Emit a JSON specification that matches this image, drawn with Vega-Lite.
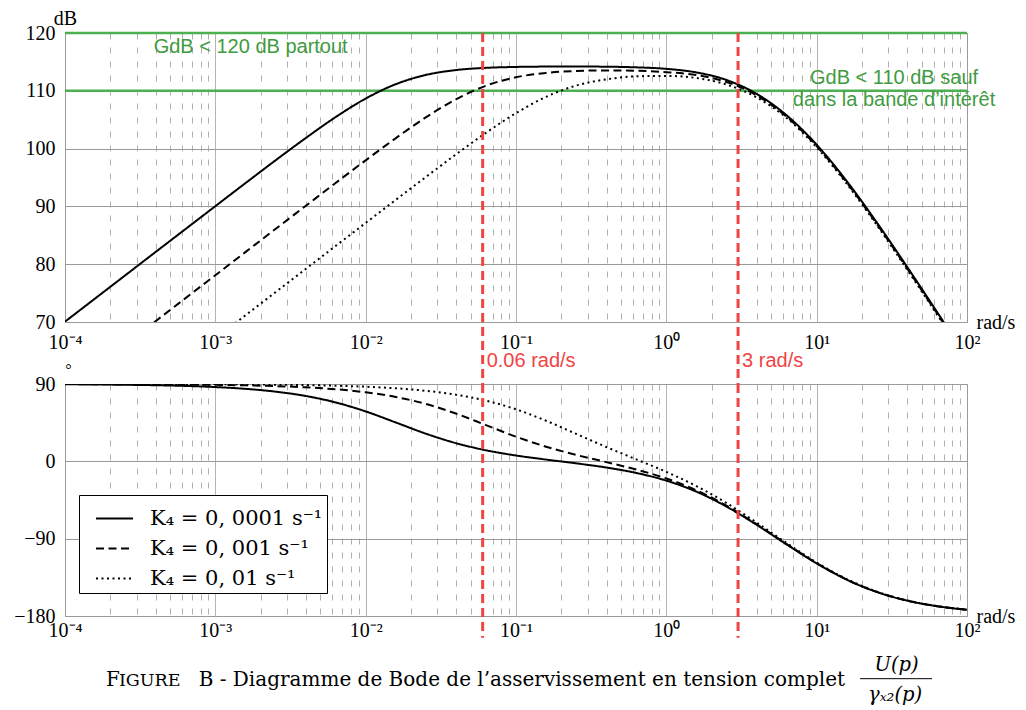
{
  "$schema": "https://vega.github.io/schema/vega-lite/v6.json",
  "background": "white",
  "padding": {"left": 13, "top": 7, "right": 0, "bottom": 0},
  "bounds": "flush",
  "spacing": 62,
  "resolve": {"scale": {"strokeDash": "independent"}, "legend": {"strokeDash": "independent"}},
  "config": {
    "view": {"stroke": "#9a9a9a", "strokeWidth": 1},
    "axis": {
      "labelFont": "Liberation Serif", "labelFontSize": 20, "labelColor": "black",
      "titleFont": "Liberation Serif", "titleFontSize": 20, "titleFontWeight": "normal", "titleColor": "black",
      "ticks": false, "domainColor": "#9a9a9a", "gridColor": "#9a9a9a", "gridWidth": 1, "labelOverlap": false
    }
  },
  "datasets": {
    "curves": [
      {"w":0.0001,"k":"0,0001","gain":70.06,"phase":89.65},
      {"w":0.00015849,"k":"0,0001","gain":74.06,"phase":89.44},
      {"w":0.00025119,"k":"0,0001","gain":78.06,"phase":89.11},
      {"w":0.00039811,"k":"0,0001","gain":82.06,"phase":88.58},
      {"w":0.00063096,"k":"0,0001","gain":86.05,"phase":87.76},
      {"w":0.001,"k":"0,0001","gain":90.04,"phase":86.45},
      {"w":0.0015849,"k":"0,0001","gain":94.02,"phase":84.37},
      {"w":0.0025119,"k":"0,0001","gain":97.96,"phase":81.13},
      {"w":0.0039811,"k":"0,0001","gain":101.8,"phase":76.09},
      {"w":0.0063096,"k":"0,0001","gain":105.45,"phase":68.57},
      {"w":0.01,"k":"0,0001","gain":108.66,"phase":58.08},
      {"w":0.015849,"k":"0,0001","gain":111.14,"phase":45.25},
      {"w":0.025119,"k":"0,0001","gain":112.74,"phase":32.22},
      {"w":0.039811,"k":"0,0001","gain":113.59,"phase":21.19},
      {"w":0.063096,"k":"0,0001","gain":113.97,"phase":12.89},
      {"w":0.1,"k":"0,0001","gain":114.13,"phase":6.8},
      {"w":0.15849,"k":"0,0001","gain":114.19,"phase":2.04},
      {"w":0.25119,"k":"0,0001","gain":114.2,"phase":-2.32},
      {"w":0.39811,"k":"0,0001","gain":114.17,"phase":-7.17},
      {"w":0.63096,"k":"0,0001","gain":114.06,"phase":-13.5},
      {"w":1,"k":"0,0001","gain":113.8,"phase":-22.46},
      {"w":1.5849,"k":"0,0001","gain":113.18,"phase":-35.27},
      {"w":2.5119,"k":"0,0001","gain":111.87,"phase":-52.63},
      {"w":3.9811,"k":"0,0001","gain":109.48,"phase":-73.81},
      {"w":6.3096,"k":"0,0001","gain":105.76,"phase":-96.68},
      {"w":10,"k":"0,0001","gain":100.67,"phase":-118.78},
      {"w":15.849,"k":"0,0001","gain":94.37,"phase":-137.72},
      {"w":25.119,"k":"0,0001","gain":87.22,"phase":-152.08},
      {"w":39.811,"k":"0,0001","gain":79.6,"phase":-162.03},
      {"w":63.096,"k":"0,0001","gain":71.76,"phase":-168.57},
      {"w":100,"k":"0,0001","gain":63.82,"phase":-172.76},
      {"w":0.0001,"k":"0,001","gain":58.09,"phase":89.91},
      {"w":0.00015849,"k":"0,001","gain":62.09,"phase":89.85},
      {"w":0.00025119,"k":"0,001","gain":66.09,"phase":89.76},
      {"w":0.00039811,"k":"0,001","gain":70.09,"phase":89.62},
      {"w":0.00063096,"k":"0,001","gain":74.09,"phase":89.4},
      {"w":0.001,"k":"0,001","gain":78.09,"phase":89.03},
      {"w":0.0015849,"k":"0,001","gain":82.09,"phase":88.45},
      {"w":0.0025119,"k":"0,001","gain":86.09,"phase":87.56},
      {"w":0.0039811,"k":"0,001","gain":90.07,"phase":86.12},
      {"w":0.0063096,"k":"0,001","gain":94.05,"phase":83.88},
      {"w":0.01,"k":"0,001","gain":97.97,"phase":80.35},
      {"w":0.015849,"k":"0,001","gain":101.8,"phase":74.9},
      {"w":0.025119,"k":"0,001","gain":105.4,"phase":66.79},
      {"w":0.039811,"k":"0,001","gain":108.52,"phase":55.63},
      {"w":0.063096,"k":"0,001","gain":110.88,"phase":42.19},
      {"w":0.1,"k":"0,001","gain":112.34,"phase":28.69},
      {"w":0.15849,"k":"0,001","gain":113.1,"phase":17.04},
      {"w":0.25119,"k":"0,001","gain":113.43,"phase":7.49},
      {"w":0.39811,"k":"0,001","gain":113.53,"phase":-0.89},
      {"w":0.63096,"k":"0,001","gain":113.48,"phase":-9.51},
      {"w":1,"k":"0,001","gain":113.23,"phase":-19.94},
      {"w":1.5849,"k":"0,001","gain":112.72,"phase":-33.68},
      {"w":2.5119,"k":"0,001","gain":111.52,"phase":-51.62},
      {"w":3.9811,"k":"0,001","gain":109.23,"phase":-73.17},
      {"w":6.3096,"k":"0,001","gain":105.51,"phase":-96.28},
      {"w":10,"k":"0,001","gain":100.42,"phase":-118.52},
      {"w":15.849,"k":"0,001","gain":94.12,"phase":-137.56},
      {"w":25.119,"k":"0,001","gain":86.97,"phase":-151.98},
      {"w":39.811,"k":"0,001","gain":79.35,"phase":-161.96},
      {"w":63.096,"k":"0,001","gain":71.51,"phase":-168.53},
      {"w":100,"k":"0,001","gain":63.57,"phase":-172.74},
      {"w":0.0001,"k":"0,01","gain":47.15,"phase":89.97},
      {"w":0.00015849,"k":"0,01","gain":51.15,"phase":89.95},
      {"w":0.00025119,"k":"0,01","gain":55.15,"phase":89.93},
      {"w":0.00039811,"k":"0,01","gain":59.15,"phase":89.88},
      {"w":0.00063096,"k":"0,01","gain":63.15,"phase":89.82},
      {"w":0.001,"k":"0,01","gain":67.15,"phase":89.69},
      {"w":0.0015849,"k":"0,01","gain":71.15,"phase":89.5},
      {"w":0.0025119,"k":"0,01","gain":75.15,"phase":89.21},
      {"w":0.0039811,"k":"0,01","gain":79.15,"phase":88.74},
      {"w":0.0063096,"k":"0,01","gain":83.15,"phase":88.01},
      {"w":0.01,"k":"0,01","gain":87.14,"phase":86.84},
      {"w":0.015849,"k":"0,01","gain":91.13,"phase":85.0},
      {"w":0.025119,"k":"0,01","gain":95.08,"phase":82.1},
      {"w":0.039811,"k":"0,01","gain":98.98,"phase":77.57},
      {"w":0.063096,"k":"0,01","gain":102.73,"phase":70.65},
      {"w":0.1,"k":"0,01","gain":106.14,"phase":60.58},
      {"w":0.15849,"k":"0,01","gain":108.96,"phase":47.25},
      {"w":0.25119,"k":"0,01","gain":110.9,"phase":31.97},
      {"w":0.39811,"k":"0,01","gain":111.98,"phase":16.72},
      {"w":0.63096,"k":"0,01","gain":112.51,"phase":2.29},
      {"w":1,"k":"0,01","gain":112.58,"phase":-12.29},
      {"w":1.5849,"k":"0,01","gain":112.21,"phase":-28.81},
      {"w":2.5119,"k":"0,01","gain":111.09,"phase":-48.53},
      {"w":3.9811,"k":"0,01","gain":108.87,"phase":-71.22},
      {"w":6.3096,"k":"0,01","gain":105.31,"phase":-95.05},
      {"w":10,"k":"0,01","gain":100.22,"phase":-117.75},
      {"w":15.849,"k":"0,01","gain":93.92,"phase":-137.07},
      {"w":25.119,"k":"0,01","gain":86.77,"phase":-151.67},
      {"w":39.811,"k":"0,01","gain":79.15,"phase":-161.77},
      {"w":63.096,"k":"0,01","gain":71.31,"phase":-168.4},
      {"w":100,"k":"0,01","gain":63.37,"phase":-172.66}
    ],
    "limits": [{"gain": 120}, {"gain": 110}],
    "freqs": [{"w": 0.06, "label": "0.06 rad/s"}, {"w": 3, "label": "3 rad/s"}],
    "notes": [
      {"w": 0.001718, "gain": 116.5, "text": "GdB < 120 dB partout"},
      {"w": 32.7, "gain": 111.19, "text": "GdB < 110 dB sauf"},
      {"w": 32.7, "gain": 107.33, "text": "dans la bande d’intérêt"}
    ],
    "one": [{}]
  },
  "vconcat": [
    {
      "width": 902,
      "height": 289,
      "layer": [
        {
          "data": {"name": "limits"},
          "mark": {"type": "rule", "color": "#4caf50", "strokeWidth": 2.5},
          "encoding": {
            "y": {"field": "gain", "type": "quantitative", "scale": {"domain": [70, 120], "nice": false, "zero": false}}
          }
        },
        {
          "data": {"name": "curves"},
          "mark": {"type": "line", "color": "black", "strokeWidth": 2, "clip": true, "interpolate": "monotone"},
          "encoding": {
            "x": {
              "field": "w", "type": "quantitative",
              "scale": {"type": "log", "domain": [0.0001, 100], "nice": false},
              "axis": {
                "values": [0.0001,0.0002,0.0003,0.0004,0.0005,0.0006,0.0007,0.0008,0.0009,0.001,0.002,0.003,0.004,0.005,0.006,0.007,0.008,0.009,0.01,0.02,0.03,0.04,0.05,0.06,0.07,0.08,0.09,0.1,0.2,0.3,0.4,0.5,0.6,0.7,0.8,0.9,1,2,3,4,5,6,7,8,9,10,20,30,40,50,60,70,80,90,100],
                "labelExpr": "datum.value == 0.0001 ? '10⁻⁴' : datum.value == 0.001 ? '10⁻³' : datum.value == 0.01 ? '10⁻²' : datum.value == 0.1 ? '10⁻¹' : datum.value == 1 ? '10⁰' : datum.value == 10 ? '10¹' : datum.value == 100 ? '10²' : ''",
                "labelFlush": false, "labelPadding": 10,
                "grid": true,
                "gridDash": {"condition": {"test": "indexof([0.0001,0.001,0.01,0.1,1,10,100], datum.value) >= 0", "value": [1, 0]}, "value": [6, 8]},
                "gridWidth": {"condition": {"test": "indexof([0.0001,0.001,0.01,0.1,1,10,100], datum.value) >= 0", "value": 1}, "value": 0.8},
                "title": "rad/s", "titleX": 911, "titleY": 0, "titleAlign": "left", "titleBaseline": "middle", "titleAngle": 0
              }
            },
            "y": {
              "field": "gain", "type": "quantitative",
              "scale": {"domain": [70, 120], "nice": false, "zero": false},
              "axis": {
                "values": [70, 80, 90, 100, 110, 120], "grid": true, "labelPadding": 10,
                "title": "dB", "titleAngle": 0, "titleX": 0, "titleY": -9, "titleAlign": "center", "titleBaseline": "alphabetic"
              }
            },
            "strokeDash": {
              "field": "k", "type": "nominal",
              "scale": {"domain": ["0,0001", "0,001", "0,01"], "range": [[1, 0], [8, 4.5], [2, 3.5]]},
              "legend": null
            }
          }
        },
        {
          "data": {"name": "freqs"},
          "mark": {"type": "rule", "color": "#ef4444", "strokeWidth": 3, "strokeDash": [9, 5]},
          "encoding": {
            "x": {"field": "w", "type": "quantitative", "scale": {"type": "log", "domain": [0.0001, 100], "nice": false}},
            "y": {"datum": 120, "type": "quantitative", "scale": {"domain": [70, 120], "nice": false, "zero": false}},
            "y2": {"datum": 59.23}
          }
        },
        {
          "data": {"name": "freqs"},
          "mark": {"type": "text", "align": "left", "baseline": "alphabetic", "dx": 4, "font": "Liberation Sans", "fontSize": 20, "color": "#ef4444"},
          "encoding": {
            "x": {"field": "w", "type": "quantitative", "scale": {"type": "log", "domain": [0.0001, 100], "nice": false}},
            "y": {"datum": 62.14, "type": "quantitative", "scale": {"domain": [70, 120], "nice": false, "zero": false}},
            "text": {"field": "label"}
          }
        },
        {
          "data": {"name": "notes"},
          "mark": {"type": "text", "align": "center", "baseline": "alphabetic", "font": "Liberation Sans", "fontSize": 20, "color": "#3f9b3f"},
          "encoding": {
            "x": {"field": "w", "type": "quantitative", "scale": {"type": "log", "domain": [0.0001, 100], "nice": false}},
            "y": {"field": "gain", "type": "quantitative", "scale": {"domain": [70, 120], "nice": false, "zero": false}},
            "text": {"field": "text"}
          }
        }
      ]
    },
    {
      "width": 902,
      "height": 232,
      "layer": [
        {
          "data": {"name": "curves"},
          "mark": {"type": "line", "color": "black", "strokeWidth": 2, "clip": true, "interpolate": "monotone"},
          "encoding": {
            "x": {
              "field": "w", "type": "quantitative",
              "scale": {"type": "log", "domain": [0.0001, 100], "nice": false},
              "axis": {
                "values": [0.0001,0.0002,0.0003,0.0004,0.0005,0.0006,0.0007,0.0008,0.0009,0.001,0.002,0.003,0.004,0.005,0.006,0.007,0.008,0.009,0.01,0.02,0.03,0.04,0.05,0.06,0.07,0.08,0.09,0.1,0.2,0.3,0.4,0.5,0.6,0.7,0.8,0.9,1,2,3,4,5,6,7,8,9,10,20,30,40,50,60,70,80,90,100],
                "labelExpr": "datum.value == 0.0001 ? '10⁻⁴' : datum.value == 0.001 ? '10⁻³' : datum.value == 0.01 ? '10⁻²' : datum.value == 0.1 ? '10⁻¹' : datum.value == 1 ? '10⁰' : datum.value == 10 ? '10¹' : datum.value == 100 ? '10²' : ''",
                "labelFlush": false, "labelPadding": 4,
                "grid": true,
                "gridDash": {"condition": {"test": "indexof([0.0001,0.001,0.01,0.1,1,10,100], datum.value) >= 0", "value": [1, 0]}, "value": [6, 8]},
                "gridWidth": {"condition": {"test": "indexof([0.0001,0.001,0.01,0.1,1,10,100], datum.value) >= 0", "value": 1}, "value": 0.8},
                "title": "rad/s", "titleX": 911, "titleY": 0, "titleAlign": "left", "titleBaseline": "middle", "titleAngle": 0
              }
            },
            "y": {
              "field": "phase", "type": "quantitative",
              "scale": {"domain": [-180, 90], "nice": false, "zero": false},
              "axis": {
                "values": [-180, -90, 0, 90], "grid": true, "labelPadding": 10,
                "title": "°", "titleFontSize": 16, "titleAngle": 0, "titleX": 3, "titleY": -10, "titleAlign": "center", "titleBaseline": "alphabetic"
              }
            },
            "strokeDash": {
              "field": "k", "type": "nominal",
              "scale": {"domain": ["0,0001", "0,001", "0,01"], "range": [[1, 0], [8, 4.5], [2, 3.5]]},
              "legend": {
                "orient": "none", "legendX": 14, "legendY": 111, "title": null,
                "symbolType": "stroke", "symbolSize": 1369, "symbolStrokeWidth": 2, "symbolStrokeColor": "black", "symbolOffset": 12,
                "labelFont": "DejaVu Serif", "labelFontSize": 21, "labelColor": "black", "labelOffset": 16, "labelLimit": 400,
                "labelExpr": "'K₄ = ' + replace(datum.label, ',', ', ') + ' s⁻¹   '",
                "padding": 4, "rowPadding": -10, "strokeColor": "black", "fillColor": "white"
              }
            }
          }
        },
        {
          "data": {"name": "freqs"},
          "mark": {"type": "rule", "color": "#ef4444", "strokeWidth": 3, "strokeDash": [9, 5]},
          "encoding": {
            "x": {"field": "w", "type": "quantitative", "scale": {"type": "log", "domain": [0.0001, 100], "nice": false}},
            "y": {"datum": 90, "type": "quantitative", "scale": {"domain": [-180, 90], "nice": false, "zero": false}},
            "y2": {"datum": -205.2}
          }
        },
        {
          "data": {"name": "one"},
          "mark": {"type": "text", "align": "left", "baseline": "alphabetic", "font": "DejaVu Serif", "fontSize": 20, "color": "black"},
          "encoding": {
            "x": {"datum": 0.0001873, "type": "quantitative", "scale": {"type": "log", "domain": [0.0001, 100], "nice": false}},
            "y": {"datum": -261.1, "type": "quantitative", "scale": {"domain": [-180, 90], "nice": false, "zero": false}},
            "text": {"value": "F"}
          }
        },
        {
          "data": {"name": "one"},
          "mark": {"type": "text", "align": "left", "baseline": "alphabetic", "font": "DejaVu Serif", "fontSize": 17.5, "color": "black"},
          "encoding": {
            "x": {"datum": 0.0002285, "type": "quantitative", "scale": {"type": "log", "domain": [0.0001, 100], "nice": false}},
            "y": {"datum": -261.1, "type": "quantitative", "scale": {"domain": [-180, 90], "nice": false, "zero": false}},
            "text": {"value": "IGURE"}
          }
        },
        {
          "data": {"name": "one"},
          "mark": {"type": "text", "align": "right", "baseline": "alphabetic", "font": "DejaVu Serif", "fontSize": 20, "color": "black"},
          "encoding": {
            "x": {"datum": 15.46, "type": "quantitative", "scale": {"type": "log", "domain": [0.0001, 100], "nice": false}},
            "y": {"datum": -261.1, "type": "quantitative", "scale": {"domain": [-180, 90], "nice": false, "zero": false}},
            "text": {"value": "B - Diagramme de Bode de l’asservissement en tension complet"}
          }
        },
        {
          "data": {"name": "one"},
          "mark": {"type": "text", "align": "center", "baseline": "alphabetic", "font": "DejaVu Serif", "fontSize": 19.5, "fontStyle": "italic", "color": "black"},
          "encoding": {
            "x": {"datum": 34, "type": "quantitative", "scale": {"type": "log", "domain": [0.0001, 100], "nice": false}},
            "y": {"datum": -243.6, "type": "quantitative", "scale": {"domain": [-180, 90], "nice": false, "zero": false}},
            "text": {"value": "U(p)"}
          }
        },
        {
          "data": {"name": "one"},
          "mark": {"type": "text", "align": "center", "baseline": "alphabetic", "font": "DejaVu Serif", "fontSize": 19.5, "fontStyle": "italic", "color": "black"},
          "encoding": {
            "x": {"datum": 33.24, "type": "quantitative", "scale": {"type": "log", "domain": [0.0001, 100], "nice": false}},
            "y": {"datum": -278.5, "type": "quantitative", "scale": {"domain": [-180, 90], "nice": false, "zero": false}},
            "text": {"value": "γₓ₂(p)"}
          }
        },
        {
          "data": {"name": "one"},
          "mark": {"type": "rule", "color": "black", "strokeWidth": 1},
          "encoding": {
            "x": {"datum": 19.45, "type": "quantitative", "scale": {"type": "log", "domain": [0.0001, 100], "nice": false}},
            "x2": {"datum": 58.5},
            "y": {"datum": -252.95, "type": "quantitative", "scale": {"domain": [-180, 90], "nice": false, "zero": false}}
          }
        }
      ]
    }
  ]
}
